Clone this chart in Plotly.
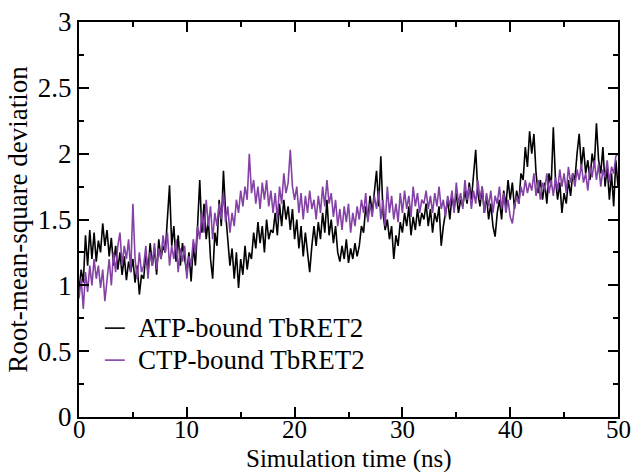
import plotly.graph_objects as go

# Sampling times (ns), one sample every 0.2 ns
time_ns = [round(i * 0.2, 1) for i in range(251)]

atp_rmsd = [
    0.96, 1.12, 1.02, 1.38, 1.15, 1.42, 1.20, 1.40, 1.18, 1.34,
    1.25, 1.47, 1.30, 1.42, 1.22, 1.36, 1.15, 1.30, 1.12, 1.25,
    1.08, 1.22, 1.04, 1.18, 1.10, 1.20, 1.02, 1.15, 0.93, 1.08,
    1.05, 1.25, 1.10, 1.32, 1.15, 1.28, 1.08, 1.35, 1.20, 1.30,
    1.25, 1.55, 1.76, 1.30, 1.45, 1.18, 1.38, 1.15, 1.32, 1.20,
    1.10, 1.25, 1.03, 1.30, 1.15, 1.45, 1.80, 1.40, 1.62, 1.35,
    1.50, 1.20, 1.05, 1.40, 1.30, 1.65, 1.45, 1.87, 1.55, 1.35,
    1.15, 1.28, 1.05, 1.25, 0.98, 1.20, 1.08, 1.30, 1.12, 1.25,
    1.20, 1.40, 1.28, 1.48, 1.32, 1.45, 1.25, 1.50, 1.35, 1.42,
    1.40, 1.55, 1.38, 1.62, 1.45, 1.65, 1.50, 1.60, 1.42, 1.58,
    1.35, 1.50, 1.28, 1.45, 1.22, 1.40, 1.25, 1.10, 1.30, 1.45,
    1.30, 1.48, 1.35, 1.55, 1.40, 1.65, 1.38, 1.50, 1.32, 1.45,
    1.25, 1.18, 1.30, 1.20, 1.35, 1.17, 1.28, 1.20, 1.32, 1.22,
    1.30, 1.45, 1.40, 1.60, 1.50, 1.68, 1.55, 1.72, 1.87, 1.60,
    1.98, 1.55, 1.42, 1.50, 1.35, 1.45, 1.20, 1.38, 1.30, 1.48,
    1.40, 1.55, 1.45, 1.60, 1.38, 1.52, 1.42, 1.58, 1.45, 1.55,
    1.50, 1.62, 1.45, 1.58, 1.40, 1.55, 1.48, 1.60, 1.30, 1.45,
    1.55, 1.65, 1.50, 1.68, 1.58, 1.70, 1.55, 1.65, 1.60, 1.72,
    1.62, 1.78, 1.65, 1.85, 2.03, 1.70, 1.60, 1.75, 1.55, 1.68,
    1.50, 1.62, 1.45, 1.37, 1.55, 1.65, 1.50, 1.72, 1.60, 1.80,
    1.65, 1.78, 1.58, 1.72, 1.62, 1.85, 1.80, 2.05, 1.90, 2.17,
    2.00, 2.15, 1.85, 1.70, 1.80, 1.65, 1.78, 1.62, 1.85, 1.75,
    2.20, 1.80, 1.65, 1.78, 1.55, 1.70, 1.62, 1.80, 1.68, 1.85,
    1.80, 2.00, 2.15, 1.90, 2.05, 1.85, 1.95, 1.80, 2.00, 1.90,
    2.23, 1.95, 1.85, 2.05, 1.75, 1.90, 1.65, 1.85, 1.60, 1.95,
    1.75,
]

ctp_rmsd = [
    0.90, 1.05, 0.82, 1.10, 0.95, 1.15, 1.00, 1.20, 1.05, 1.15,
    0.98, 1.12, 0.88, 1.05, 1.20, 1.00, 1.25, 1.10, 1.30, 1.40,
    1.15, 1.30, 1.20, 1.35, 1.10, 1.62, 1.20, 1.05, 1.25, 1.10,
    1.15, 1.30, 1.05, 1.25, 1.15, 1.32, 1.12, 1.28, 1.20, 1.38,
    1.25, 1.40, 1.15, 1.30, 1.20, 1.35, 1.10, 1.28, 1.18, 1.30,
    1.05, 1.22, 1.15, 1.35, 1.25, 1.45, 1.35, 1.55, 1.40, 1.65,
    1.45, 1.60, 1.35, 1.55, 1.45, 1.62, 1.50, 1.70, 1.48, 1.60,
    1.40, 1.55, 1.45, 1.65, 1.55, 1.72, 1.60, 1.75, 1.65, 2.00,
    1.70, 1.80, 1.62, 1.75, 1.58, 1.78, 1.65, 1.80, 1.60, 1.72,
    1.55, 1.70, 1.50, 1.75, 1.62, 1.85, 1.70, 1.78, 2.03, 1.75,
    1.65, 1.75, 1.55, 1.70, 1.50, 1.68, 1.55, 1.72, 1.58, 1.65,
    1.50, 1.68, 1.55, 1.75, 1.60, 1.80, 1.62, 1.70, 1.52, 1.65,
    1.45, 1.58, 1.42, 1.60, 1.48, 1.62, 1.40, 1.55, 1.45, 1.60,
    1.50, 1.65, 1.55, 1.70, 1.48, 1.62, 1.52, 1.68, 1.58, 1.72,
    1.50, 1.65, 1.45, 1.75, 1.55, 1.68, 1.50, 1.62, 1.48, 1.70,
    1.55, 1.72, 1.58, 1.68, 1.52, 1.75, 1.60, 1.70, 1.55, 1.65,
    1.62, 1.72, 1.58, 1.68, 1.55, 1.70, 1.60, 1.75, 1.58, 1.65,
    1.52, 1.68, 1.60, 1.72, 1.55, 1.78, 1.62, 1.70, 1.58, 1.80,
    1.65, 1.75, 1.58, 1.72, 1.62, 1.80, 1.65, 1.75, 1.55, 1.70,
    1.60, 1.72, 1.55, 1.68, 1.62, 1.75, 1.58, 1.70, 1.55, 1.65,
    1.52, 1.47, 1.60, 1.68, 1.62, 1.75, 1.68, 1.80, 1.70, 1.78,
    1.72, 1.85, 1.68, 1.80, 1.65, 1.78, 1.72, 1.85, 1.70, 1.80,
    1.68, 1.82, 1.72, 1.88, 1.75, 1.85, 1.70, 1.90, 1.78, 1.85,
    1.75, 1.88, 1.80, 1.92, 1.78, 1.85, 1.72, 1.90, 1.82, 1.95,
    1.80, 1.92, 1.75, 1.88, 1.82, 1.95, 1.78, 1.90, 1.85, 1.98,
    2.00,
]

series_names = ["ATP-bound TbRET2", "CTP-bound TbRET2"]
series_colors = ["#000000", "#8442A6"]

x_ticks = [0, 10, 20, 30, 40, 50]
x_tick_labels = ["0", "10", "20", "30", "40", "50"]
y_ticks = [0, 0.5, 1, 1.5, 2, 2.5, 3]
y_tick_labels = ["0", "0.5", "1", "1.5", "2", "2.5", "3"]
x_title = "Simulation time (ns)"
y_title = "Root-mean-square deviation"

FONT = "Liberation Serif"

fig = go.Figure()
for name, vals, col in zip(series_names, [atp_rmsd, ctp_rmsd], series_colors):
    fig.add_trace(go.Scatter(
        x=time_ns, y=vals, mode="lines", name=name,
        line=dict(color=col, width=1.6),
    ))

axis_common = dict(
    showline=True, linecolor="black", linewidth=2, mirror="allticks",
    ticks="inside", ticklen=10, tickwidth=2, tickcolor="black",
    showgrid=False, zeroline=False, automargin=False,
    tickfont=dict(family=FONT, size=27, color="black"),
)

fig.update_xaxes(
    range=[0, 50], tickvals=x_ticks, showticklabels=False,
    minor=dict(ticks="inside", dtick=5, ticklen=5, tickwidth=2, tickcolor="black"),
    **axis_common,
)
fig.update_yaxes(
    range=[0, 3], tickvals=y_ticks, ticktext=y_tick_labels,
    minor=dict(ticks="inside", dtick=0.25, ticklen=5, tickwidth=2, tickcolor="black"),
    title=dict(text=y_title, font=dict(family=FONT, size=27, color="black"), standoff=2),
    **axis_common,
)

# x tick labels, placed by the x axis scale, snug under the axis (Grace style)
for tv, tl in zip(x_ticks, x_tick_labels):
    fig.add_annotation(xref="x", yref="paper", x=tv, y=0.006,
                       xanchor="center", yanchor="top", showarrow=False,
                       text=tl, font=dict(family=FONT, size=25, color="black"),
                       borderpad=0)

# x-axis title placed explicitly under the tick labels
fig.add_annotation(xref="paper", yref="paper", x=0.5, y=-0.0675,
                   xanchor="center", yanchor="top", showarrow=False,
                   text=x_title, font=dict(family=FONT, size=25, color="black"),
                   borderpad=0)

# Legend drawn inside the plot (Grace-style): short line + label
legend_rows_y = [0.225, 0.144]
for name, col, yy in zip(series_names, series_colors, legend_rows_y):
    fig.add_shape(type="line", xref="paper", yref="paper",
                  x0=0.048, x1=0.085, y0=yy, y1=yy,
                  line=dict(color=col, width=1.6))
    fig.add_annotation(xref="paper", yref="paper", x=0.106, y=yy,
                       xanchor="left", yanchor="middle", showarrow=False,
                       text=name, font=dict(family=FONT, size=27, color="black"))

fig.update_layout(
    width=636, height=472,
    margin=dict(l=79, r=18, t=22, b=55),
    paper_bgcolor="white", plot_bgcolor="white",
    showlegend=False,
)

fig.write_html(
    "out.html",
    config={"displayModeBar": False},
    post_script="document.body.style.margin='0';document.body.style.overflow='hidden';",
)
